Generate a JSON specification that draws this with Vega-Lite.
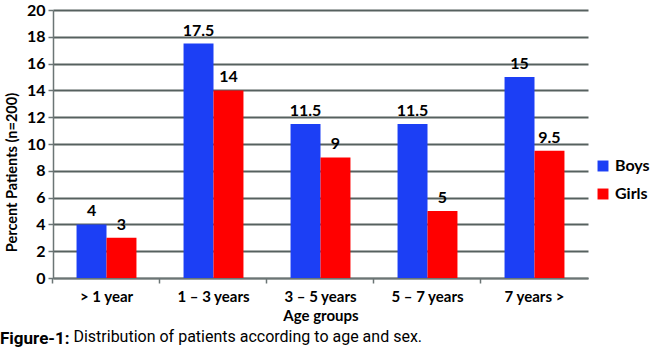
{
  "$schema": "https://vega.github.io/schema/vega-lite/v6.json",
  "width": 535,
  "height": 268,
  "autosize": {"type": "none"},
  "padding": {"left": 53, "top": 10, "right": 62, "bottom": 77},
  "background": "white",
  "data": {"values": [
    {"age": "> 1 year", "sex": "Boys", "pct": 4},
    {"age": "> 1 year", "sex": "Girls", "pct": 3},
    {"age": "1 – 3 years", "sex": "Boys", "pct": 17.5},
    {"age": "1 – 3 years", "sex": "Girls", "pct": 14},
    {"age": "3 – 5 years", "sex": "Boys", "pct": 11.5},
    {"age": "3 – 5 years", "sex": "Girls", "pct": 9},
    {"age": "5 – 7 years", "sex": "Boys", "pct": 11.5},
    {"age": "5 – 7 years", "sex": "Girls", "pct": 5},
    {"age": "7 years >", "sex": "Boys", "pct": 15},
    {"age": "7 years >", "sex": "Girls", "pct": 9.5}
  ]},
  "title": {
    "text": "Figure-1:",
    "subtitle": "\u200b\u2003\u2003\u2003\u2003\u2002Distribution of patients according to age and sex.",
    "orient": "bottom",
    "anchor": "start",
    "frame": "group",
    "dx": -53,
    "offset": 8,
    "font": "Roboto",
    "fontSize": 17,
    "fontWeight": "bold",
    "color": "black",
    "subtitleFont": "Roboto",
    "subtitleFontSize": 16,
    "subtitleFontWeight": "normal",
    "subtitleColor": "black",
    "subtitlePadding": -19
  },
  "encoding": {
    "x": {
      "field": "age",
      "type": "nominal",
      "sort": null,
      "scale": {"paddingInner": 0.44, "paddingOuter": 0.22},
      "axis": {
        "title": "Age groups",
        "labelAngle": 0,
        "labelFont": "Lato",
        "labelFontSize": 15,
        "labelFontWeight": "bold",
        "labelColor": "black",
        "labelPadding": 6,
        "titleFont": "Lato",
        "titleFontSize": 15,
        "titleFontWeight": "bold",
        "titleColor": "black",
        "titlePadding": 4,
        "domainColor": "#6b7575",
        "domainWidth": 1.5,
        "tickColor": "#6b7575",
        "tickWidth": 1.5,
        "tickSize": 5,
        "bandPosition": -0.393
      }
    },
    "y": {
      "field": "pct",
      "type": "quantitative",
      "scale": {"domain": [0, 20]},
      "axis": {
        "title": "Percent Patients (n=200)",
        "values": [0, 2, 4, 6, 8, 10, 12, 14, 16, 18, 20],
        "labelFont": "Lato",
        "labelFontSize": 16,
        "labelFontWeight": "bold",
        "labelColor": "black",
        "labelPadding": 3,
        "titleFont": "Lato",
        "titleFontSize": 14.5,
        "titleFontWeight": "bold",
        "titleColor": "black",
        "titleX": -34,
        "titleY": 162,
        "grid": true,
        "gridColor": "#56615f",
        "gridWidth": 2,
        "domainColor": "#6b7575",
        "domainWidth": 1.5,
        "tickColor": "#6b7575",
        "tickWidth": 1.5,
        "tickSize": 5
      }
    },
    "xOffset": {"field": "sex", "type": "nominal", "scale": {"paddingInner": 0, "paddingOuter": 0}}
  },
  "layer": [
    {
      "mark": {"type": "bar"},
      "encoding": {
        "color": {
          "field": "sex",
          "type": "nominal",
          "scale": {"domain": ["Boys", "Girls"], "range": ["#1c3ff5", "#ff0000"]},
          "legend": {
            "title": null,
            "orient": "none",
            "legendX": 542,
            "legendY": 148,
            "symbolType": "square",
            "symbolSize": 120,
            "symbolStrokeWidth": 0,
            "rowPadding": 12,
            "labelFont": "Lato",
            "labelFontSize": 16,
            "labelFontWeight": "bold",
            "labelColor": "black"
          }
        }
      }
    },
    {
      "mark": {"type": "text", "baseline": "bottom", "dy": -5, "font": "Lato", "fontSize": 16, "fontWeight": "bold", "color": "black"},
      "encoding": {"text": {"field": "pct", "type": "quantitative"}}
    }
  ],
  "config": {"view": {"stroke": null}}
}
